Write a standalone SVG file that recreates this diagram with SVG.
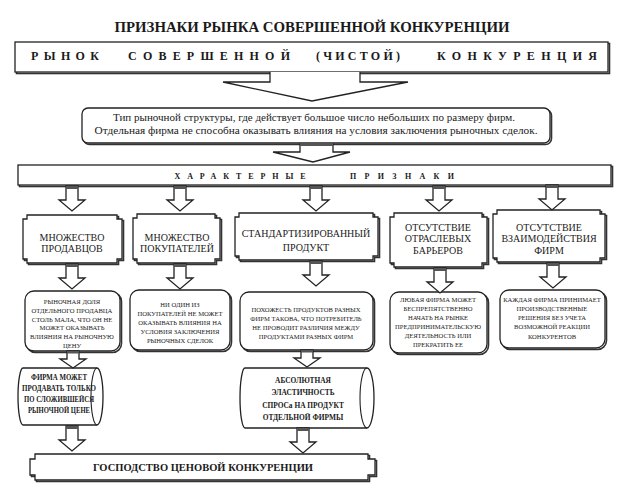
<svg xmlns="http://www.w3.org/2000/svg" xmlns:xlink="http://www.w3.org/1999/xlink" width="628" height="500" viewBox="0 0 628 500">
<style>
text{font-family:"Liberation Serif","Times New Roman","DejaVu Serif",serif;fill:#1a1a1a;text-anchor:middle}
.ttl{font-size:14.5px;font-weight:bold}
.spc{font-size:12px;font-weight:bold}
.dsc{font-size:10px}
.chr{font-size:8px;font-weight:bold}
.hd{font-size:10px}
.sm{font-size:6.6px}
.cy{font-size:7.4px;font-weight:bold}
.bt{font-size:10.5px;font-weight:bold}
.ln{fill:#fff;stroke:#222;stroke-width:1.3}
.sh{fill:none;stroke:#333;stroke-width:1.6}
.band{fill:#555}
</style>
<defs>
<g id="arr">
<path class="ln" d="M-6,0 V14 H-13 L0,25 L13,14 H6 V0 Z"/>
<rect class="band" x="-6" y="0" width="12" height="3"/>
</g>
<g id="arrs">
<path class="ln" d="M-6,0 V8 H-13 L0,17 L13,8 H6 V0 Z"/>
<rect class="band" x="-6" y="0" width="12" height="2.5"/>
</g>
</defs>

<text class="ttl" x="312" y="32" textLength="395" lengthAdjust="spacingAndGlyphs">ПРИЗНАКИ РЫНКА  СОВЕРШЕННОЙ КОНКУРЕНЦИИ</text>

<g id="market">
<rect x="16.5" y="43.5" width="593" height="30" class="sh"/>
<rect x="15" y="42" width="593" height="30" class="ln"/>
<text class="spc" x="65" y="60" textLength="68" lengthAdjust="spacing">РЫНОК</text>
<text class="spc" x="209" y="60" textLength="162" lengthAdjust="spacing">СОВЕРШЕННОЙ</text>
<text class="spc" x="358" y="60" textLength="84" lengthAdjust="spacing">(ЧИСТОЙ)</text>
<text class="spc" x="517" y="60" textLength="160" lengthAdjust="spacing">КОНКУРЕНЦИЯ</text>
</g>

<g id="definition">
<rect x="83.5" y="109.5" width="468" height="35" rx="6" class="sh"/>
<rect x="82" y="108" width="468" height="35" rx="6" class="ln"/>
<text class="dsc" x="314" y="121" textLength="402" lengthAdjust="spacingAndGlyphs">Тип рыночной структуры, где действует большое число небольших по размеру фирм.</text>
<text class="dsc" x="316" y="134" textLength="443" lengthAdjust="spacingAndGlyphs">Отдельная фирма не способна оказывать влияния на условия заключения рыночных сделок.</text>
</g>

<g id="features">
<rect x="19.5" y="166.5" width="593" height="20" class="sh"/>
<rect x="18" y="165" width="593" height="20" class="ln"/>
<text class="chr" x="240" y="179" textLength="131" lengthAdjust="spacing">ХАРАКТЕРНЫЕ</text>
<text class="chr" x="402" y="179" textLength="104" lengthAdjust="spacing">ПРИЗНАКИ</text>
</g>

<g id="h1">
<path class="sh" d="M28.5,216.5 H118.5 V220.5 H123.5 V260.5 H118.5 V264.5 H28.5 V260.5 H24.5 V220.5 H28.5 Z"/>
<path class="ln" d="M27,215 H117 V219 H122 V259 H117 V263 H27 V259 H23 V219 H27 Z"/>
<text class="hd" x="72" y="241">МНОЖЕСТВО</text>
<text class="hd" x="72" y="252">ПРОДАВЦОВ</text>
</g>
<g id="h2">
<path class="sh" d="M138.5,215.5 H216.5 V219.5 H221.5 V260.5 H216.5 V264.5 H138.5 V260.5 H134.5 V219.5 H138.5 Z"/>
<path class="ln" d="M137,214 H215 V218 H220 V259 H215 V263 H137 V259 H133 V218 H137 Z"/>
<text class="hd" x="177" y="241">МНОЖЕСТВО</text>
<text class="hd" x="177" y="252">ПОКУПАТЕЛЕЙ</text>
</g>
<g id="h3">
<path class="sh" d="M240.5,214.5 H374.5 V218.5 H379.5 V257.5 H374.5 V261.5 H240.5 V257.5 H236.5 V218.5 H240.5 Z"/>
<path class="ln" d="M239,213 H373 V217 H378 V256 H373 V260 H239 V256 H235 V217 H239 Z"/>
<text class="hd" x="306" y="237">СТАНДАРТИЗИРОВАННЫЙ</text>
<text class="hd" x="306" y="251">ПРОДУКТ</text>
</g>
<g id="h4">
<path class="sh" d="M395.5,214.5 H483.5 V218.5 H488.5 V264.5 H483.5 V268.5 H395.5 V264.5 H391.5 V218.5 H395.5 Z"/>
<path class="ln" d="M394,213 H482 V217 H487 V263 H482 V267 H394 V263 H390 V217 H394 Z"/>
<text class="hd" x="438" y="231">ОТСУТСТВИЕ</text>
<text class="hd" x="438" y="242">ОТРАСЛЕВЫХ</text>
<text class="hd" x="438" y="254">БАРЬЕРОВ</text>
</g>
<g id="h5">
<path class="sh" d="M498.5,211.5 H601.5 V215.5 H606.5 V259.5 H601.5 V263.5 H498.5 V259.5 H494.5 V215.5 H498.5 Z"/>
<path class="ln" d="M497,210 H600 V214 H605 V258 H600 V262 H497 V258 H493 V214 H497 Z"/>
<text class="hd" x="549" y="231">ОТСУТСТВИЕ</text>
<text class="hd" x="549" y="242">ВЗАИМОДЕЙСТВИЯ</text>
<text class="hd" x="549" y="254">ФИРМ</text>
</g>

<g id="d1">
<rect x="26.5" y="292.5" width="95" height="60" rx="9" class="sh"/>
<rect x="25" y="291" width="95" height="60" rx="9" class="ln"/>
<text class="sm" x="72" y="304">РЫНОЧНАЯ ДОЛЯ</text>
<text class="sm" x="72" y="312.8">ОТДЕЛЬНОГО ПРОДАВЦА</text>
<text class="sm" x="72" y="321.6">СТОЛЬ МАЛА, ЧТО ОН НЕ</text>
<text class="sm" x="72" y="330.4">МОЖЕТ ОКАЗЫВАТЬ</text>
<text class="sm" x="72" y="339.2">ВЛИЯНИЯ НА РЫНОЧНУЮ</text>
<text class="sm" x="72" y="348">ЦЕНУ</text>
</g>
<g id="d2">
<rect x="131.5" y="291.5" width="100" height="60" rx="9" class="sh"/>
<rect x="130" y="290" width="100" height="60" rx="9" class="ln"/>
<text class="sm" x="180" y="307">НИ ОДИН ИЗ</text>
<text class="sm" x="180" y="316">ПОКУПАТЕЛЕЙ НЕ МОЖЕТ</text>
<text class="sm" x="180" y="325">ОКАЗЫВАТЬ ВЛИЯНИЯ НА</text>
<text class="sm" x="180" y="334">УСЛОВИЯ ЗАКЛЮЧЕНИЯ</text>
<text class="sm" x="180" y="343">РЫНОЧНЫХ СДЕЛОК</text>
</g>
<g id="d3">
<rect x="241.5" y="293.5" width="133" height="58" rx="9" class="sh"/>
<rect x="240" y="292" width="133" height="58" rx="9" class="ln"/>
<text class="sm" x="306" y="312">ПОХОЖЕСТЬ ПРОДУКТОВ РАЗНЫХ</text>
<text class="sm" x="306" y="321">ФИРМ ТАКОВА, ЧТО ПОТРЕБИТЕЛЬ</text>
<text class="sm" x="306" y="330">НЕ ПРОВОДИТ РАЗЛИЧИЯ МЕЖДУ</text>
<text class="sm" x="306" y="339">ПРОДУКТАМИ РАЗНЫХ ФИРМ</text>
</g>
<g id="d4">
<rect x="391.5" y="293.5" width="97" height="61" rx="9" class="sh"/>
<rect x="390" y="292" width="97" height="61" rx="9" class="ln"/>
<text class="sm" x="438" y="302">ЛЮБАЯ ФИРМА МОЖЕТ</text>
<text class="sm" x="438" y="311">БЕСПРЕПЯТСТВЕННО</text>
<text class="sm" x="438" y="320">НАЧАТЬ НА РЫНКЕ</text>
<text class="sm" x="438" y="329">ПРЕДПРИНИМАТЕЛЬСКУЮ</text>
<text class="sm" x="438" y="338">ДЕЯТЕЛЬНОСТЬ ИЛИ</text>
<text class="sm" x="438" y="347">ПРЕКРАТИТЬ ЕЕ</text>
</g>
<g id="d5">
<rect x="501.5" y="291.5" width="105" height="58" rx="9" class="sh"/>
<rect x="500" y="290" width="105" height="58" rx="9" class="ln"/>
<text class="sm" x="552" y="302">КАЖДАЯ ФИРМА ПРИНИМАЕТ</text>
<text class="sm" x="552" y="311">ПРОИЗВОДСТВЕННЫЕ</text>
<text class="sm" x="552" y="320">РЕШЕНИЯ БЕЗ УЧЕТА</text>
<text class="sm" x="552" y="329">ВОЗМОЖНОЙ РЕАКЦИИ</text>
<text class="sm" x="552" y="339">КОНКУРЕНТОВ</text>
</g>

<g id="c1">
<path class="ln" d="M23,368 H97 A6,28.5 0 0 1 97,425 H23 A5,28.5 0 0 1 23,368 Z"/>
<path fill="none" stroke="#222" stroke-width="1.1" d="M97,368 A6,28.5 0 0 0 97,425"/>
<text class="cy" x="59" y="380" textLength="56" lengthAdjust="spacingAndGlyphs">ФИРМА МОЖЕТ</text>
<text class="cy" x="59" y="391" textLength="74" lengthAdjust="spacingAndGlyphs">ПРОДАВАТЬ ТОЛЬКО</text>
<text class="cy" x="59" y="402" textLength="70" lengthAdjust="spacingAndGlyphs">ПО СЛОЖИВШЕЙСЯ</text>
<text class="cy" x="59" y="413" textLength="62" lengthAdjust="spacingAndGlyphs">РЫНОЧНОЙ ЦЕНЕ</text>
</g>
<g id="c2">
<path class="ln" d="M245,368 H367 A7,30 0 0 1 367,428 H245 A5,30 0 0 1 245,368 Z"/>
<path fill="none" stroke="#222" stroke-width="1.1" d="M367,368 A7,30 0 0 0 367,428"/>
<text class="cy" x="303" y="383">АБСОЛЮТНАЯ</text>
<text class="cy" x="303" y="395">ЭЛАСТИЧНОСТЬ</text>
<text class="cy" x="303" y="408">СПРОСа НА ПРОДУКТ</text>
<text class="cy" x="303" y="420">ОТДЕЛЬНОЙ ФИРМЫ</text>
</g>

<g id="result">
<path class="sh" d="M36.5,455.5 H369.5 V460.5 H376.5 V476.5 H369.5 V481.5 H36.5 V476.5 H31.5 V460.5 H36.5 Z"/>
<path class="ln" d="M35,454 H368 V459 H375 V475 H368 V480 H35 V475 H30 V459 H35 Z"/>
<text class="bt" x="203" y="471">ГОСПОДСТВО ЦЕНОВОЙ КОНКУРЕНЦИИ</text>
</g>

<g id="connectors">
<path class="ln" d="M270,72 V82 H223 L312,101 L408,82 H360 V72"/>
<path class="ln" d="M300,143 V152 H273 L313,162 L350,152 H333 V143"/>
<rect class="band" x="300" y="143" width="33" height="3"/>
<use xlink:href="#arr" x="72" y="186"/>
<use xlink:href="#arr" x="180" y="186"/>
<use xlink:href="#arr" x="316" y="186"/>
<use xlink:href="#arr" x="439" y="186"/>
<use xlink:href="#arr" x="552" y="185"/>
<use xlink:href="#arr" x="72" y="264"/>
<use xlink:href="#arr" x="180" y="264"/>
<use xlink:href="#arr" x="316" y="261"/>
<use xlink:href="#arr" x="440" y="268"/>
<use xlink:href="#arr" x="553" y="263"/>
<use xlink:href="#arrs" x="73" y="351"/>
<use xlink:href="#arrs" x="307" y="350"/>
<use xlink:href="#arr" x="72" y="426"/>
<use xlink:href="#arr" x="303" y="428"/>
</g>
</svg>
